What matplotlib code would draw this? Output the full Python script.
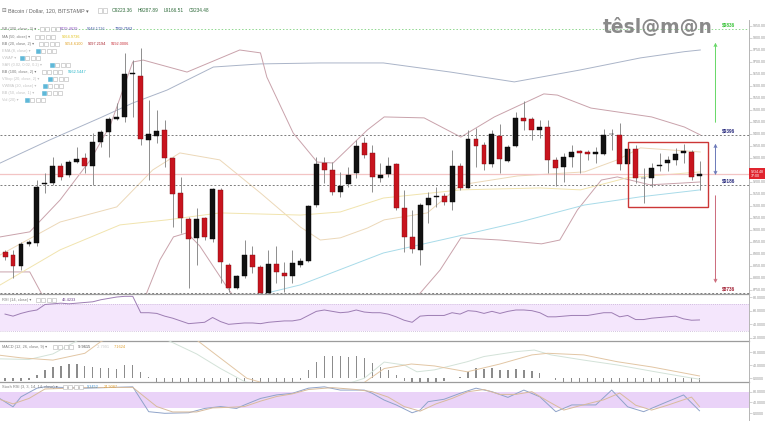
import numpy as np
import matplotlib.pyplot as plt
from matplotlib.patches import Rectangle
from matplotlib.ticker import FuncFormatter

plt.rcParams['font.family'] = ['Liberation Sans', 'DejaVu Sans']

W, H = 768, 432

# BTC/USD 2h candles (BITSTAMP)
opens = [8907, 8894, 8850, 8940, 8945, 9192, 9194, 9268, 9229, 9285,
         9301, 9268, 9365, 9407, 9462, 9471, 9650, 9642, 9375, 9393,
         9417, 9301, 9153, 9044, 8965, 9051, 8962, 9167, 8854, 8760,
         8806, 8896, 8847, 8739, 8857, 8819, 8806, 8854, 8872, 9104,
         9278, 9250, 9160, 9192, 9239, 9361, 9319, 9215, 9233, 9275,
         9093, 8972, 8917, 9104, 9136, 9142, 9115, 9267, 9176, 9379,
         9354, 9274, 9393, 9288, 9351, 9467, 9464, 9417, 9431, 9292,
         9264, 9306, 9329, 9324, 9318, 9315, 9398, 9396, 9274, 9336,
         9215, 9215, 9265, 9281, 9292, 9322, 9324, 9223.36]
highs = [8917, 8917, 8951, 8958, 9208, 9236, 9306, 9278, 9292, 9347,
         9319, 9403, 9417, 9472, 9528, 9736, 9708, 9757, 9542, 9500,
         9458, 9306, 9222, 9056, 9090, 9056, 9174, 9174, 8861, 8813,
         8958, 8931, 8854, 8917, 8931, 8868, 8917, 8882, 9104, 9306,
         9306, 9285, 9243, 9264, 9375, 9389, 9354, 9278, 9306, 9278,
         9167, 9083, 9111, 9160, 9181, 9153, 9333, 9278, 9417, 9424,
         9368, 9417, 9440, 9354, 9493, 9539, 9472, 9458, 9458, 9306,
         9319, 9354, 9333, 9333, 9344, 9421, 9421, 9444, 9347, 9354,
         9257, 9281, 9319, 9308, 9340, 9357, 9333, 9287.89]
lows = [8875, 8799, 8833, 8931, 8931, 9153, 9188, 9208, 9222, 9278,
        9236, 9188, 9347, 9306, 9458, 9451, 9472, 9354, 9208, 9361,
        9264, 9014, 8986, 8757, 8854, 8958, 8951, 8778, 8743, 8753,
        8799, 8819, 8736, 8736, 8778, 8743, 8778, 8847, 8868, 9097,
        9194, 9146, 9139, 9181, 9215, 9299, 9160, 9201, 9222, 9083,
        8910, 8903, 8854, 9028, 9097, 9104, 9083, 9167, 9174, 9264,
        9250, 9264, 9236, 9285, 9347, 9417, 9375, 9382, 9236, 9185,
        9199, 9264, 9236, 9292, 9278, 9313, 9333, 9250, 9250, 9194,
        9111, 9181, 9246, 9246, 9271, 9278, 9208, 9166.51]
closes = [8889, 8850, 8940, 8949, 9181, 9197, 9268, 9222, 9285, 9294,
          9268, 9365, 9410, 9462, 9471, 9649, 9651, 9378, 9399, 9413,
          9301, 9150, 9051, 8962, 9047, 8969, 9171, 8865, 8760, 8806,
          8896, 8847, 8739, 8857, 8824, 8810, 8861, 8872, 9100, 9275,
          9250, 9160, 9185, 9229, 9351, 9313, 9222, 9229, 9268, 9090,
          8969, 8919, 9104, 9135, 9142, 9117, 9267, 9174, 9379, 9350,
          9274, 9399, 9296, 9347, 9468, 9456, 9417, 9431, 9292, 9257,
          9306, 9324, 9322, 9315, 9326, 9396, 9401, 9274, 9336, 9215,
          9218, 9260, 9269, 9292, 9315, 9328, 9219, 9234.48]

# overlay indicators, (bar index, price) points
bb200_up_i = [-0.6, 5.6, 11.9, 16, 20.3, 26.1, 32, 39.5, 47.4, 55.8, 63.8, 72.1, 79.6, 85.1, 87.1]
bb200_up_p = [9279, 9375, 9467, 9529, 9583, 9679, 9692, 9696, 9696, 9658, 9617, 9667, 9717, 9743, 9750]
bb20_up_i = [-0.6, 3.1, 6.9, 10.7, 13.2, 16, 17.3, 22.8, 29.4, 32, 32.8, 36.1, 39.1, 41.1, 45.4,
             47.5, 52.5, 57.1, 61.3, 67.5, 69.2, 73.4, 81, 85.1, 87.1]
bb20_up_p = [8971, 8992, 9125, 9292, 9437, 9700, 9708, 9658, 9750, 9738, 9637, 9404, 9283, 9279, 9417,
             9471, 9467, 9387, 9471, 9567, 9562, 9508, 9471, 9429, 9396]
bb20_lo_i = [-0.6, 3.1, 5, 10.7, 16.9, 19.4, 21.1, 22.8, 24.4, 27.8, 29.4, 37, 47, 51.6, 54.5,
             57.1, 62, 67.2, 69.5, 71.7, 74.7, 76.7, 80.8, 85.1, 87.1]
bb20_lo_p = [8825, 8825, 8708, 8583, 8667, 8875, 8971, 8988, 8933, 8762, 8688, 8542, 8583, 8721, 8833,
             8967, 8958, 8942, 8958, 9083, 9208, 9221, 9188, 9196, 9200]
bb20_mid_i = [-0.6, 6.9, 14, 18.5, 21.9, 26.9, 32, 37, 39.5, 42, 45.4, 47.5, 52.9, 57.1, 64.2,
              72.6, 76.7, 79.6, 87.1]
bb20_mid_p = [8896, 9033, 9096, 9250, 9321, 9292, 9154, 9012, 8958, 8967, 9008, 9042, 9071, 9188, 9225,
              9242, 9292, 9342, 9325]
ma50_i = [-0.6, 6.9, 14.4, 20.3, 26.9, 37, 42, 47.4, 57.1, 67, 72.1, 77.9, 87.1]
ma50_p = [8771, 8917, 9021, 9042, 9071, 9062, 9075, 9133, 9167, 9175, 9167, 9217, 9242]
bb100_lo_i = [32.8, 37, 47.4, 55.8, 64.5, 72.6, 79.6, 87.1]
bb100_lo_p = [8737, 8771, 8904, 8967, 9033, 9104, 9138, 9167]

levels = [9836, 9396, 9186, 8736]
level_cols = ['#36c236', '#26287c', '#26287c', '#a01c30']
box_bars = (78.1, 88.1)
box_prices = (9096, 9367)

rsi = [55, 52, 56, 59, 61, 69, 70, 71, 70, 71,
       72, 73, 76, 78, 80, 81, 81, 57, 57, 56,
       52, 49, 45, 41, 42, 43, 50, 44, 40, 41,
       42, 42, 41, 43, 44, 45, 45, 47, 53, 59,
       61, 59, 57, 58, 61, 58, 57, 57, 55, 51,
       46, 43, 52, 53, 53, 53, 57, 55, 60, 59,
       56, 59, 56, 59, 61, 61, 60, 57, 51, 51,
       52, 53, 53, 53, 55, 57, 57, 51, 53, 47,
       47, 49, 50, 51, 52, 48, 46, 46.42]

macd_hist = [-8, -8, -7, -6, 10, 26, 36, 38, 44, 44, 38, 34, 32, 32, 30, 40, 42, 20, 3,
             -14, -22, -30, -38, -42, -40, -36, -30, -34, -40, -38, -32, -26, -24, -20, -16, -13, -10,
             -4, 24, 51, 69, 69, 69, 67, 69, 64, 48, 34, 26, 10,
             -8, -16, -20, -18, -14, -9, 0.5, 3,
             20, 31, 29, 33, 26, 26, 28, 26, 23, 17, 1,
             -6, -10, -14, -16, -18, -19, -20, -18, -19, -20, -18, -17, -16, -15, -14, -13, -11, -10, -9.96]
macd_i = [-1, 3, 6, 9, 12, 16, 20.3, 24, 27, 30, 36, 40, 45, 47.5, 50, 51.6, 53.8, 57.9, 60, 64,
          66.3, 68.4, 72.5, 76.7, 81, 85, 87]
macd_v = [60, 58, 75, 115, 150, 170, 118, 75, 30, -10, -50, -40, 0, 50, 41, 20, 26, 51, 67, 82,
          87, 72, 56, 41, 22, 5, -2.8]
sig_i = [-1, 2, 6, 10, 12, 16, 22, 24, 30.3, 36, 44, 47.5, 50.9, 53.8, 57.9, 62, 66, 68, 72.5,
         76.7, 81, 87]
sig_v = [72, 63, 56, 77, 113, 150, 135, 118, 0, -40, -30, 30, 44, 38, 20, 44, 72, 77, 72,
         51, 35, 7.16]

k_i = [-1, 1, 2, 4, 5, 10, 16, 18, 20, 23, 25, 27, 29, 30, 32, 34, 36, 38, 40, 42, 45, 46, 47.5,
       49, 51, 52, 53, 55, 57, 59, 61, 63, 65, 67, 69, 71, 74, 76, 78, 80, 82, 85, 87]
k_v = [61, 24, 61, 93, 98, 93, 98, 6, 0, 2, 18, 25, 18, 31, 55, 68, 74, 93, 98, 86, 86, 74, 49,
       31, 2, 12, 43, 52, 74, 93, 80, 59, 86, 61, 6, 31, 31, 86, 24, 6, 31, 68, 9.35]
d_i = [-1, 1, 3, 5, 10, 16, 19, 21, 24, 26, 28, 30, 32, 34, 36, 38, 41, 44, 46, 48, 50, 52, 54,
       56, 58, 60, 62, 64, 66, 68, 70, 72, 75, 77, 79, 81, 83, 86, 87]
d_v = [55, 35, 55, 90, 95, 96, 25, 5, 5, 20, 22, 25, 45, 62, 72, 88, 95, 88, 80, 60, 25, 8, 35,
       55, 80, 88, 70, 70, 80, 45, 12, 28, 50, 75, 30, 12, 30, 60, 24.91]


def rect(x0, y0, x1, y1):
    return [x0 / W, 1 - y1 / H, (x1 - x0) / W, (y1 - y0) / H]


def ptext(x, y, s, **kw):
    kw.setdefault('fontsize', 2.8)
    fig.text(x / W, 1 - y / H, s, ha='left', va='center', **kw)


def squares(x0, y, n, first_blue=False):
    for k in range(n):
        blue = first_blue and k == 0
        fig.add_artist(Rectangle(((x0 + k * 5.4) / W, 1 - (y + 2) / H), 4 / W, 4 / H,
                                 transform=fig.transFigure, lw=0.4,
                                 edgecolor='#5fb8d8' if blue else '#b5b5b5',
                                 facecolor='#5fb8d8' if blue else 'white'))


fig = plt.figure(figsize=(W / 100, H / 100), dpi=100)
ax = fig.add_axes(rect(0, 20, 749, 294))
ax_rsi = fig.add_axes(rect(0, 294, 749, 341), sharex=ax)
ax_macd = fig.add_axes(rect(0, 341, 749, 382), sharex=ax)
ax_st = fig.add_axes(rect(0, 382, 749, 420), sharex=ax)

for a in (ax, ax_rsi, ax_macd, ax_st):
    a.set_facecolor('none')
    a.spines['left'].set_visible(False)
    a.spines['top'].set_visible(False)
    a.spines['right'].set_color('#b5b5b5')
    a.spines['right'].set_linewidth(0.7)
    a.spines['bottom'].set_color('#9c9c9c')
    a.spines['bottom'].set_linewidth(0.9)
    a.yaxis.tick_right()
    a.tick_params(axis='y', length=2, width=0.4, color='#b5b5b5', labelsize=2.6,
                  labelcolor='#909090', pad=1)
    a.tick_params(axis='x', bottom=False, labelbottom=False)
ax_st.spines['bottom'].set_visible(False)

x = np.arange(len(closes))
o, h, l, c = (np.array(v, float) for v in (opens, highs, lows, closes))
up = c >= o

# overlays
ax.plot(bb200_up_i, bb200_up_p, color='#aab4c8', lw=0.7, zorder=1)
ax.plot(bb20_up_i, bb20_up_p, color='#c9a2ab', lw=0.7, zorder=1)
ax.plot(bb20_lo_i, bb20_lo_p, color='#c9a2ab', lw=0.7, zorder=1)
ax.plot(bb20_mid_i, bb20_mid_p, color='#ecd8b8', lw=0.7, zorder=1)
ax.plot(ma50_i, ma50_p, color='#f1e4ae', lw=0.7, zorder=1)
ax.plot(bb100_lo_i, bb100_lo_p, color='#a8dbe9', lw=0.7, zorder=1)
ax.axhline(closes[-1], color='#f3c4c4', lw=0.9, zorder=1)

for lv, col in zip(levels, level_cols):
    if lv == levels[0]:
        ax.axhline(lv, color='#8fd88f', lw=0.7, ls=(0, (1.5, 2)), zorder=1)
    else:
        ax.axhline(lv, color='#7c7c7c', lw=0.7, ls=(0, (2, 2)), zorder=1)
    ax.text(89.8, lv + 6, f'${lv}', color=col, fontsize=3.4, fontweight='bold',
            ha='left', va='bottom', zorder=6)

# candles
ax.vlines(x, l, h, color='#8e8e8e', lw=0.7, zorder=3)
ax.bar(x, np.maximum(np.abs(c - o), 3), bottom=np.minimum(o, c), width=0.62,
       color=np.where(up, '#111111', '#c8141e'), edgecolor=np.where(up, '#000000', '#7a0c12'),
       lw=0.3, zorder=4)

# target arrows and consolidation box
arr_x = 89
ax.annotate('', xy=(arr_x, 9792), xytext=(arr_x, 9437),
            arrowprops=dict(arrowstyle='->', color='#66d866', lw=0.7, mutation_scale=5))
ax.annotate('', xy=(arr_x, 9371), xytext=(arr_x, 9217),
            arrowprops=dict(arrowstyle='<->', color='#6a78b8', lw=0.7, mutation_scale=5))
ax.annotate('', xy=(arr_x, 8767), xytext=(arr_x, 9154),
            arrowprops=dict(arrowstyle='->', color='#cc6a7a', lw=0.7, mutation_scale=5))
ax.add_patch(Rectangle((box_bars[0], box_prices[0]), box_bars[1] - box_bars[0],
                       box_prices[1] - box_prices[0], fill=False, edgecolor='#cc3636',
                       lw=1.0, zorder=5))

ax.set_xlim(-0.63, 93.2)
ax.set_ylim(8733, 9875)
# labels under the last-price tag are hidden, as on the chart
ax.set_yticks([t for t in range(8750, 9851, 50) if abs(t - closes[-1]) > 30])
ax.yaxis.set_major_formatter(FuncFormatter(lambda v, p: f'{v:.2f}'))
ax.text(1.002, closes[-1], f'{closes[-1]:.2f}\n37:00', transform=ax.get_yaxis_transform(),
        fontsize=2.6, color='white', ha='left', va='center', linespacing=1.1, zorder=10,
        clip_on=False, bbox=dict(boxstyle='square,pad=0.35', fc='#e0242e', ec='none'))

fmt4 = FuncFormatter(lambda v, p: f'{v:.4f}')

# RSI
ax_rsi.axhspan(30, 70, color='#f4e6fc', lw=0)
for lv in (30, 70):
    ax_rsi.axhline(lv, color='#c7b3d6', lw=0.6, ls=(0, (1, 1.5)))
ax_rsi.plot(x, rsi, color='#9d7db3', lw=0.7)
ax_rsi.set_ylim(15.6, 84.4)
ax_rsi.set_yticks([20, 40, 60, 80])
ax_rsi.yaxis.set_major_formatter(fmt4)

# MACD
ax_macd.bar(x, macd_hist, width=0.16, color='#8c8c8c', zorder=2)
ax_macd.plot(macd_i, macd_v, color='#d3e2d8', lw=0.7, zorder=3)
ax_macd.plot(sig_i, sig_v, color='#e2c6a4', lw=0.7, zorder=3)
ax_macd.set_ylim(-11.4, 114.8)
ax_macd.set_yticks([0, 40, 80])
ax_macd.yaxis.set_major_formatter(fmt4)

# Stoch RSI
ax_st.axhspan(20, 80, color='#ead3f8', lw=0)
ax_st.plot(k_i, k_v, color='#8fa3c9', lw=0.7)
ax_st.plot(d_i, d_v, color='#d8bb9c', lw=0.7)
ax_st.set_ylim(-24.8, 115.9)
ax_st.set_yticks([0, 40, 80])
ax_st.yaxis.set_major_formatter(fmt4)

# header and legends
ptext(1.5, 10.5, '⊟', fontsize=4, color='#777777')
ptext(8, 10.5, 'Bitcoin / Dollar, 120, BITSTAMP ▾', fontsize=3.9, color='#666666')
squares(98, 10.5, 2)
for xx, s in zip([112, 138, 164, 189], ['O9223.36', 'H9287.89', 'L9166.51', 'C9234.48']):
    ptext(xx, 10.5, s, fontsize=3.4, color='#2f6b3b')

rows = [
    ('BB (200, close, 2) ▾', 29, 40, 4, False, [(60, '8729.4639', '#8a4fc0'), (87, '9048.1716', '#4a5fa8'), (115, '7709.7562', '#263f9c')]),
    ('MA (50, close) ▾', 36.7, 35, 4, False, [(62, '9064.9736', '#e2c21a')]),
    ('BB (20, close, 2) ▾', 43.7, 39, 4, False, [(65, '9054.6100', '#e0a020'), (88, '9097.2194', '#a8202a'), (111, '9192.0006', '#c8303a')]),
    ('EMA (8, close) ▾', 51, 36, 4, True, []),
    ('VWAP ▾', 58, 20, 4, True, []),
    ('SAR (0.02, 0.02, 0.2) ▾', 65, 50, 4, True, []),
    ('BB (100, close, 2) ▾', 72, 42, 4, False, [(68, '9162.5447', '#26b5c8')]),
    ('VStop (20, close, 2) ▾', 79, 48, 4, True, []),
    ('VWMA (20, close) ▾', 86, 43, 4, True, []),
    ('BB (50, close, 1) ▾', 93, 42, 4, True, []),
    ('Vol (20) ▾', 100, 25, 4, True, []),
]
for name, yy, sx, n, hidden, vals in rows:
    ptext(2, yy, name, color='#c2c2c2' if hidden else '#7a7a7a')
    squares(sx, yy, n, first_blue=hidden)
    for xx, s, col in vals:
        ptext(xx, yy, s, color=col)

ptext(2, 300, 'RSI (14, close) ▾', color='#7a7a7a')
squares(36, 300, 4)
ptext(62, 300, '46.4233', color='#6a3d8a')
ptext(2, 347, 'MACD (12, 26, close, 9) ▾', color='#7a7a7a')
squares(53, 347, 4)
ptext(78, 347, '-9.9615', color='#444444')
ptext(97, 347, '-2.7991', color='#c8c8c8')
ptext(114, 347, '7.1624', color='#e0a030')
ptext(2, 387, 'Stoch RSI (3, 3, 14, 14, close) ▾', color='#7a7a7a')
squares(63, 387, 4)
ptext(87, 387, '9.3452', color='#3c8fd0')
ptext(104, 387, '24.9087', color='#e0a030')

fig.text(658 / W, 1 - 27 / H, 'têsl@m@n', fontsize=13.5, fontweight='bold',
         family='DejaVu Sans', color='#8a8a8a', ha='center', va='center')

fig.savefig('out.png', dpi=100, facecolor='white')
